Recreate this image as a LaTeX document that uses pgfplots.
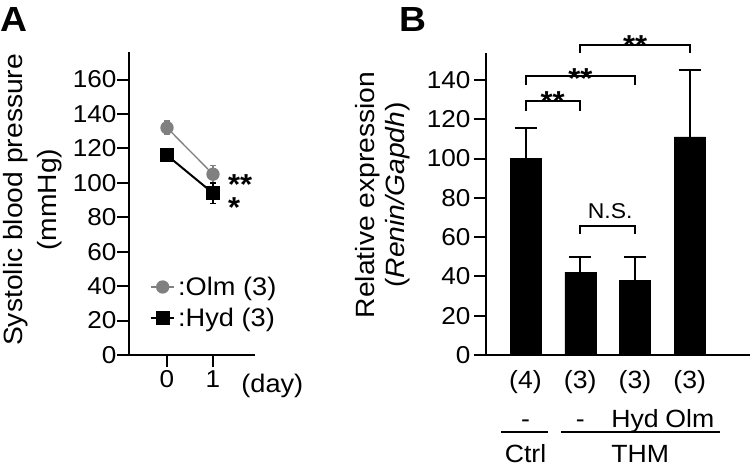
\documentclass[border=0pt]{standalone}
\usepackage{fontspec}
\setmainfont{Liberation Sans}[FakeStretch=1.07]
\usepackage{pgfplots}
\pgfplotsset{compat=1.18}
\definecolor{olmgray}{RGB}{128,128,128}

\pgfplotsset{
  panel/.style={
    scale only axis, anchor=south west,
    axis x line=bottom, axis y line=left,
    axis line style={line width=2bp,-},
    tick align=outside, major tick length=12bp,
    every tick/.style={line width=2bp,black},
    ymin=0, clip=false,
    /pgf/number format/assume math mode=true,
    tick label style={font=\fontsize{24.5}{28}\selectfont},
    ylabel style={align=center,anchor=center},
  },
}
\tikzset{sigstar/.style={inner sep=0,font=\fontsize{29}{34}\selectfont\bfseries}}

\begin{document}
\begin{tikzpicture}[font=\fontsize{25}{29}\selectfont]
\path[use as bounding box] (0,0) rectangle (750bp,466bp);

\node[anchor=base west,inner sep=0,font=\fontsize{35}{40}\selectfont\bfseries] at (0bp,434bp) {A};
\node[anchor=base west,inner sep=0,font=\fontsize{35}{40}\selectfont\bfseries] at (399.5bp,434bp) {B};

% panel A
\begin{axis}[panel,
  at={(129bp,111bp)}, width=126bp, height=303bp,
  xmin=-0.826, xmax=1.913, ymax=176,
  xtick={0,1}, ytick={0,20,...,160},
  yticklabel style={xshift=3bp},
  ylabel={Systolic blood pressure\\(mmHg)},
  ylabel style={at={(rel axis cs:-0.764,0.512)},font=\fontsize{26.5}{34}\selectfont},
  legend style={draw=none, fill=none, at={(axis cs:-0.37,30.5)}, anchor=west,
    inner sep=0pt, row sep=8bp, legend cell align=left,
    font=\fontsize{25.5}{29}\selectfont,
    nodes={inner sep=0pt, minimum height=23bp},
    /tikz/every odd column/.append style={column sep=3bp}},
  legend image code/.code={\draw[mark repeat=2,mark phase=2,#1] plot coordinates {(0bp,0bp) (11.5bp,0bp) (23bp,0bp)};},
]
\addplot[olmgray, line width=1.3bp, mark=*, mark size=6bp, mark options={fill=olmgray,draw=olmgray},
  error bars/.cd, y dir=both, y explicit,
  error bar style={line width=1.5bp,olmgray},
  error mark options={rotate=90,mark size=3bp,line width=1.5bp,olmgray}]
  coordinates {(0,132) +- (0,4) (1,105) +- (0,5)};
\addlegendentry{:Olm (3)}
\addplot[black, line width=2bp, mark=square*, mark size=6bp, mark options={fill=black,draw=black},
  error bars/.cd, y dir=both, y explicit,
  error bar style={line width=1.5bp,black},
  error mark options={rotate=90,mark size=3bp,line width=1.5bp,black}]
  coordinates {(0,116) +- (0,2) (1,94) +- (0,6)};
\addlegendentry{:Hyd (3)}
\node[sigstar,anchor=base west] at (axis cs:1.326,93) {**};
\node[sigstar,anchor=base west] at (axis cs:1.326,79.7) {*};
\node[anchor=base,inner sep=0,font=\fontsize{25.5}{29}\selectfont] at (axis cs:2.29,-21.5) {(day)};
\end{axis}

% panel B
\begin{axis}[panel,
  at={(486bp,111bp)}, width=264bp, height=302bp,
  xmin=0.278, xmax=5.1, ymax=153.7,
  xtick={1,2,3,4}, ytick={0,20,...,140},
  xtick style={draw=none},
  xticklabels={{(4)\\-},{(3)\\-},{(3)\\Hyd},{(3)\\Olm}},
  xticklabel style={align=center,font=\fontsize{25}{39}\selectfont},
  ylabel={Relative expression\\(\textit{Renin/Gapdh})},
  ylabel style={at={(rel axis cs:-0.392,0.53)},font=\fontsize{26.5}{30}\selectfont},
]
\addplot[ybar, bar width=31bp, fill=black, draw=black,
  error bars/.cd, y dir=plus, y explicit,
  error bar style={line width=2bp,black},
  error mark options={rotate=90,mark size=11bp,line width=2bp,black}]
  coordinates {(1,100) +- (0,15.5) (2,42) +- (0,8) (3,38) +- (0,12) (4,111) +- (0,34)};
% significance brackets
\draw[line width=2bp] (axis cs:2,153.5) -- (axis cs:2,157.7) -- (axis cs:4,157.7) -- (axis cs:4,153.5);
\draw[line width=2bp] (axis cs:1,137.5) -- (axis cs:1,142.1) -- (axis cs:3,142.1) -- (axis cs:3,137.5);
\draw[line width=2bp] (axis cs:1,124.3) -- (axis cs:1,129.4) -- (axis cs:2,129.4) -- (axis cs:2,124.3);
\draw[line width=2bp] (axis cs:2,61.6) -- (axis cs:2,65.8) -- (axis cs:3,65.8) -- (axis cs:3,61.6);
\node[sigstar,anchor=base] at (axis cs:3,152.2) {**};
\node[sigstar,anchor=base] at (axis cs:2,135.8) {**};
\node[sigstar,anchor=base] at (axis cs:1.494,123.9) {**};
\node[anchor=base,inner sep=0,font=\fontsize{21.5}{25}\selectfont] at (axis cs:2.547,69.6) {N.S.};
% group lines
\draw[line width=2bp] (axis cs:0.552,-39.2) -- (axis cs:1.412,-39.2);
\draw[line width=2bp] (axis cs:1.65,-39.2) -- (axis cs:4.558,-39.2);
\node[anchor=base,inner sep=0] at (axis cs:1,-54.5) {Ctrl};
\node[anchor=base,inner sep=0] at (axis cs:3.096,-54.5) {THM};
\end{axis}
\end{tikzpicture}
\end{document}
